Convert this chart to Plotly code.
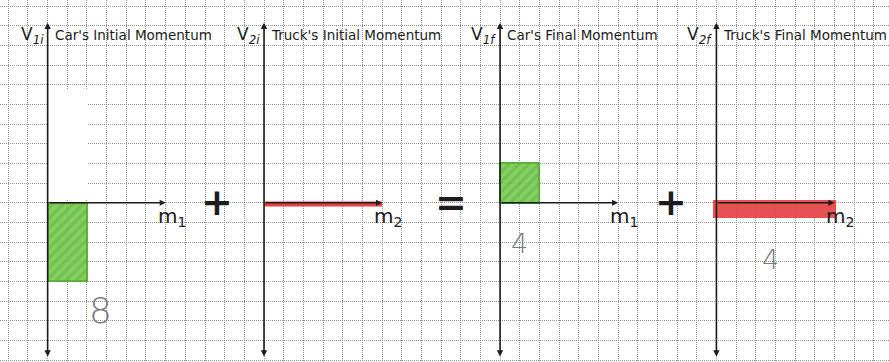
import plotly.graph_objects as go

# ---- data -------------------------------------------------------------
panel_titles = ["Car's Initial Momentum", "Truck's Initial Momentum",
                "Car's Final Momentum", "Truck's Final Momentum"]
velocity_labels = ["V<sub><i>1i</i></sub>", "V<sub><i>2i</i></sub>",
                   "V<sub><i>1f</i></sub>", "V<sub><i>2f</i></sub>"]
mass_labels = ["m<sub>1</sub>", "m<sub>2</sub>", "m<sub>1</sub>", "m<sub>2</sub>"]
masses = [2, 6, 2, 6]                 # bar widths (grid squares)
velocities = [-4, 0, 2, -2 / 3]       # bar heights (grid squares)
bar_kinds = ["car", "truck", "car", "truck"]
operators = ["+", "=", "+"]
# white correction-tape stroke over an earlier attempt in the first panel
erased_mass = 2
erased_from, erased_to = 0.14, 5.73

# ---- page geometry (grid squares) -------------------------------------
W, H = 889, 362
S = 19.67          # px per grid square
X0 = 8.3           # px of first vertical grid line
Y0 = 202.7         # px of the momentum axis
origins = [2, 13, 25, 36]
operator_x = [10.6, 22.5, 33.7]
label_offsets = [(2.71, -5.5), (0, 0), (1.0, -2.05), (2.77, -2.87)]
AXIS_TOP, AXIS_BOTTOM, AXIS_LEN = 9.15, -7.9, 6.0

GREEN_BG, GREEN_FG = "#7cca55", "#4fae2c"
RED = "#e54343"
INK = "#1c1c1c"
PENCIL = "#7a7a7a"

fig = go.Figure()

# erased stroke
fig.add_trace(go.Bar(x=[origins[0]], y=[erased_to - erased_from], base=[erased_from],
                     width=[erased_mass], offset=0,
                     marker=dict(color="white", line=dict(width=0)),
                     hoverinfo="skip", showlegend=False))

for o, m, v, kind in zip(origins, masses, velocities, bar_kinds):
    if v == 0:
        fig.add_trace(go.Scatter(x=[o, o + m], y=[v - 0.07, v - 0.07], mode="lines",
                                 line=dict(color=RED, width=5),
                                 hoverinfo="skip", showlegend=False))
        continue
    if kind == "car":
        marker = dict(color=GREEN_BG,
                      pattern=dict(shape="/", fgcolor=GREEN_FG, bgcolor=GREEN_BG,
                                   size=7, solidity=0.45),
                      line=dict(color=GREEN_FG, width=2))
    else:
        marker = dict(color=RED, line=dict(color=RED, width=5))
    fig.add_trace(go.Bar(x=[o], y=[v], base=[0], width=[m], offset=0,
                         marker=marker, opacity=0.92,
                         hoverinfo="skip", showlegend=False))

annotations = []
for i, o in enumerate(origins):
    # velocity axis (double headed) and mass axis
    annotations.append(dict(x=o, y=AXIS_TOP, ax=o, ay=AXIS_BOTTOM,
                            xref="x", yref="y", axref="x", ayref="y", text="",
                            showarrow=True, arrowhead=2, startarrowhead=2,
                            arrowside="end+start", arrowsize=0.8, startarrowsize=0.8,
                            arrowwidth=1.6, arrowcolor=INK, standoff=0, startstandoff=0))
    annotations.append(dict(x=o + AXIS_LEN, y=0, ax=o, ay=0,
                            xref="x", yref="y", axref="x", ayref="y", text="",
                            showarrow=True, arrowhead=2, arrowsize=0.8,
                            arrowwidth=1.5, arrowcolor=INK, standoff=0))
    annotations.append(dict(x=o - 0.1, y=8.5, xref="x", yref="y", text=velocity_labels[i],
                            showarrow=False, xanchor="right", yanchor="middle",
                            font=dict(family="DejaVu Sans", size=17, color=INK)))
    annotations.append(dict(x=o + 0.25, y=8.55, xref="x", yref="y", text=panel_titles[i],
                            showarrow=False, xanchor="left", yanchor="middle",
                            font=dict(family="DejaVu Sans", size=13.5, color=INK)))
    annotations.append(dict(x=o + 6.3, y=-0.75, xref="x", yref="y", text=mass_labels[i],
                            showarrow=False, xanchor="center", yanchor="middle",
                            font=dict(family="DejaVu Sans", size=20, color=INK)))
    p = round(abs(masses[i] * velocities[i]))
    if p:
        dx, dy = label_offsets[i]
        annotations.append(dict(x=o + dx, y=dy, xref="x", yref="y", text=str(p),
                                showarrow=False, xanchor="center", yanchor="middle",
                                font=dict(family="DejaVu Sans", size=36 if p > 5 else 27,
                                          color=PENCIL, weight=200)))

for xo, op in zip(operator_x, operators):
    annotations.append(dict(x=xo, y=0.05, xref="x", yref="y", text=op,
                            showarrow=False, xanchor="center", yanchor="middle",
                            font=dict(family="DejaVu Sans", size=38, color=INK, weight="bold")))

grid = dict(showgrid=True, dtick=1, tick0=0, gridcolor="#939393", gridwidth=1,
            griddash="1px,1px", zeroline=False, showticklabels=False,
            showline=False, ticks="", fixedrange=True)

fig.update_layout(
    width=W, height=H, autosize=False,
    margin=dict(l=0, r=0, t=0, b=0),
    paper_bgcolor="white", plot_bgcolor="white",
    barmode="overlay", bargap=0,
    xaxis=dict(range=[-X0 / S, (W - X0) / S], **grid),
    yaxis=dict(range=[(Y0 - H) / S, Y0 / S], **grid),
    annotations=annotations,
    showlegend=False,
)

fig.write_html("out.html")
